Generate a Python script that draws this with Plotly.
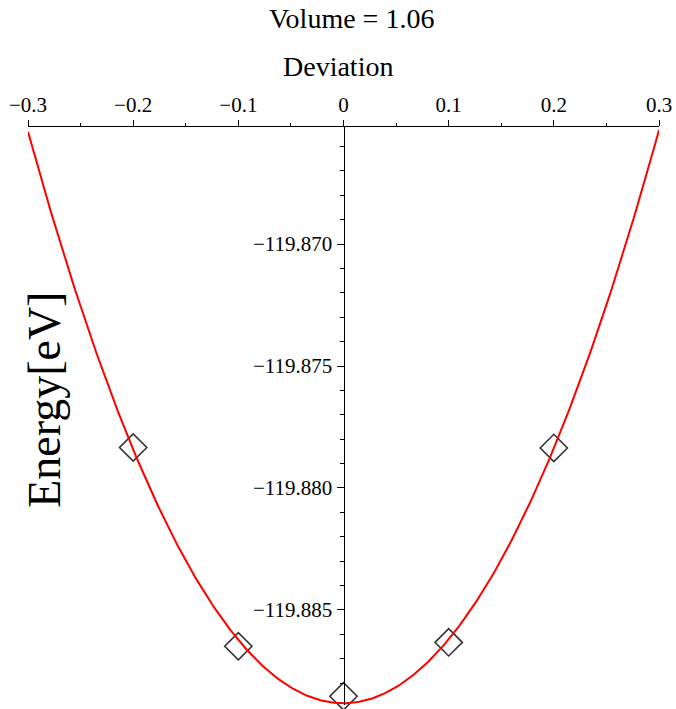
import numpy as np
import plotly.graph_objects as go

# Sampled total energies at each lattice deviation
deviation = [-0.2, -0.1, 0.0, 0.1, 0.2]
energy = [-119.87834, -119.88649, -119.88854, -119.88633, -119.87836]
volume = 1.06

x_range = [-0.3, 0.3]
y_range = [-119.8889, -119.8652]

# Quadratic least-squares fit through the sampled energies
coef = np.polyfit(deviation, energy, 2)
x_fit = np.linspace(x_range[0], x_range[1], 401)
y_fit = np.polyval(coef, x_fit)

serif = "Liberation Serif"

fig = go.Figure()
fig.add_trace(go.Scatter(
    x=deviation, y=energy, mode="markers",
    marker=dict(symbol="diamond-open", size=21, color="#333333",
                line=dict(width=1.6, color="#333333")),
    cliponaxis=False, showlegend=False,
))
fig.add_trace(go.Scatter(
    x=x_fit, y=y_fit, mode="lines",
    line=dict(color="#ff0000", width=2),
    showlegend=False,
))

fig.update_layout(
    width=676, height=709,
    margin=dict(l=28, r=14, t=127, b=4),
    paper_bgcolor="white", plot_bgcolor="white",
    font=dict(family=serif, color="black"),
    xaxis=dict(
        range=x_range, side="top", anchor="y",
        showline=True, linecolor="black", linewidth=1,
        showgrid=False, zeroline=False,
        ticks="outside", ticklen=6, tickcolor="black", tickwidth=1,
        dtick=0.1, tick0=0,
        minor=dict(dtick=0.05, ticklen=3, ticks="outside", tickcolor="black", showgrid=False),
        tickfont=dict(family=serif, size=21, color="black"),
    ),
    yaxis=dict(
        range=y_range, anchor="free", position=0.5, side="left",
        showline=True, linecolor="black", linewidth=1,
        showgrid=False, zeroline=False,
        ticks="outside", ticklen=7, tickcolor="black", tickwidth=1,
        dtick=0.005, tick0=-119.870, tickformat=".3f",
        minor=dict(dtick=0.001, ticklen=4, ticks="outside", tickcolor="black", showgrid=False),
        tickfont=dict(family=serif, size=21, color="black"),
    ),
    annotations=[
        dict(text=f"Volume = {volume}", xref="paper", yref="paper",
             x=0.512, y=1.187, xanchor="center", yanchor="middle",
             showarrow=False, font=dict(family=serif, size=28, color="black")),
        dict(text="Deviation", xref="paper", yref="paper",
             x=0.492, y=1.104, xanchor="center", yanchor="middle",
             showarrow=False, font=dict(family=serif, size=28, color="black")),
        dict(text="Energy[eV]", xref="paper", yref="paper",
             x=0.027, y=0.528, xanchor="center", yanchor="middle",
             textangle=-90, showarrow=False,
             font=dict(family=serif, size=46, color="black")),
    ],
)

fig.write_html("out.html")
